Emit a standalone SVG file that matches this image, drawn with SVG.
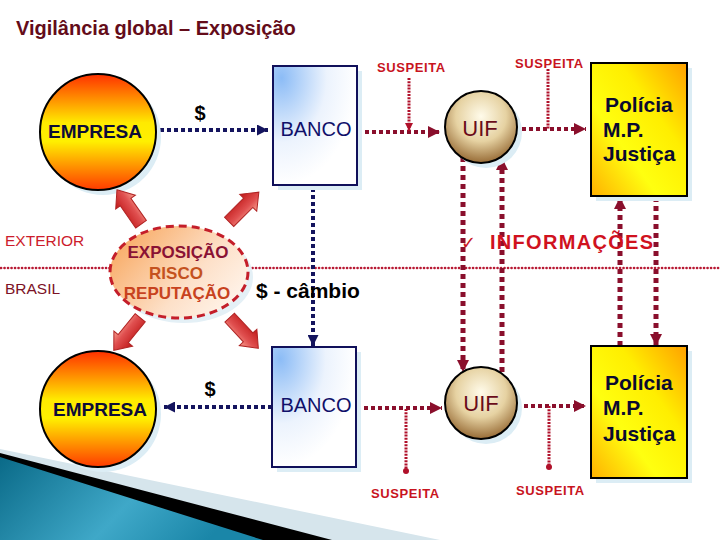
<svg xmlns="http://www.w3.org/2000/svg" width="720" height="540" viewBox="0 0 720 540">
<style>
.nv{fill:none;stroke:#14145e;stroke-width:4;stroke-dasharray:4 3}
.rd{fill:none;stroke:#8a0f2c;stroke-width:4;stroke-dasharray:4 3}
.rdv{fill:none;stroke:#8a0f2c;stroke-width:5;stroke-dasharray:5 4}
.thin{fill:none;stroke:#b0102a;stroke-width:3;stroke-dasharray:2 1.2}
.div{fill:none;stroke:#b81a34;stroke-width:2.6;stroke-dasharray:0.1 3.4;stroke-linecap:round}
.susp{font-family:"Liberation Sans",Arial,sans-serif;font-weight:bold;font-size:13px;fill:#c8141e;letter-spacing:0.6px}
.emp{font-family:"Liberation Sans",Arial,sans-serif;font-weight:bold;font-size:19px;fill:#0c0c38;text-anchor:middle}
.banco{font-family:"Liberation Sans",Arial,sans-serif;font-size:20px;fill:#10106a;text-anchor:middle}
.uif{font-family:"Liberation Sans",Arial,sans-serif;font-size:22px;fill:#6a0c1a;text-anchor:middle}
.pol{font-family:"Liberation Sans",Arial,sans-serif;font-weight:bold;font-size:21px;fill:#0a0a30}
.dol{font-family:"Liberation Sans",Arial,sans-serif;font-weight:bold;font-size:20px;fill:#000;text-anchor:middle}
.sh{fill:#dcedf5}
.barrow{fill:url(#gArr);stroke:#b02424;stroke-width:1}
</style>
<defs>
<linearGradient id="gEmp" x1="0" y1="0" x2="0" y2="1">
<stop offset="0" stop-color="#ff3000"/><stop offset="0.42" stop-color="#ffea00"/><stop offset="0.58" stop-color="#fff000"/><stop offset="1" stop-color="#ff3a00"/>
</linearGradient>
<radialGradient id="gBanco" cx="0.1" cy="0.1" r="0.9">
<stop offset="0" stop-color="#8cbcf6"/><stop offset="0.6" stop-color="#ecf3fd"/><stop offset="1" stop-color="#ffffff"/>
</radialGradient>
<radialGradient id="gUif" cx="0.5" cy="0.35" r="0.7">
<stop offset="0" stop-color="#fffbea"/><stop offset="0.5" stop-color="#e6d2a2"/><stop offset="1" stop-color="#8a5a24"/>
</radialGradient>
<linearGradient id="gPol" x1="1" y1="0" x2="0" y2="1">
<stop offset="0" stop-color="#ffa000"/><stop offset="0.35" stop-color="#ffee00"/><stop offset="0.65" stop-color="#ffff10"/><stop offset="1" stop-color="#ffb000"/>
</linearGradient>
<linearGradient id="gEll" x1="0" y1="0.2" x2="1" y2="0.8">
<stop offset="0" stop-color="#f8a860"/><stop offset="0.6" stop-color="#fde0c8"/><stop offset="1" stop-color="#fff6ee"/>
</linearGradient>
<linearGradient id="gArr" x1="0" y1="0" x2="1" y2="0">
<stop offset="0" stop-color="#c01818"/><stop offset="0.6" stop-color="#e05050"/><stop offset="1" stop-color="#f8a090"/>
</linearGradient>
<linearGradient id="gTeal" x1="0" y1="0" x2="1" y2="0.3">
<stop offset="0" stop-color="#0a6a88"/><stop offset="0.6" stop-color="#3fa8c8"/><stop offset="1" stop-color="#1a86a8"/>
</linearGradient>
<marker id="mN" viewBox="0 0 10 10" refX="10" refY="5" markerWidth="11" markerHeight="11" markerUnits="userSpaceOnUse" orient="auto"><path d="M0,0 L10,5 L0,10 z" fill="#14145e"/></marker>
<marker id="mR" viewBox="0 0 10 10" refX="10" refY="5" markerWidth="12" markerHeight="12" markerUnits="userSpaceOnUse" orient="auto"><path d="M0,0 L10,5 L0,10 z" fill="#8a0f2c"/></marker>
<marker id="mRs" viewBox="0 0 10 10" refX="10" refY="5" markerWidth="8" markerHeight="8" markerUnits="userSpaceOnUse" orient="auto"><path d="M0,0 L10,5 L0,10 z" fill="#b0102a"/></marker>
<marker id="dot" viewBox="0 0 10 10" refX="5" refY="5" markerWidth="6" markerHeight="6" markerUnits="userSpaceOnUse"><circle cx="5" cy="5" r="5" fill="#b0102a"/></marker>
</defs>
<rect width="720" height="540" fill="#ffffff"/>

<!-- bottom-left decoration -->
<polygon points="0,449 440,540 0,540" fill="#d6e5ec"/>
<polygon points="0,453 332,540 0,540" fill="#000000"/>
<polygon points="0,457 263,540 0,540" fill="url(#gTeal)"/>

<text x="16" y="35" font-family="Liberation Sans, Arial, sans-serif" font-weight="bold" font-size="20" fill="#640c1a">Vigilância global – Exposição</text>

<!-- divider -->
<g id="divider">
<line class="div" x1="1" y1="268" x2="110" y2="268"/>
<line class="div" x1="249" y1="268" x2="720" y2="268"/>
<text x="5" y="246" font-family="Liberation Sans, Arial, sans-serif" font-size="15.5" fill="#cc1c2c">EXTERIOR</text>
<text x="5" y="294" font-family="Liberation Sans, Arial, sans-serif" font-size="15.5" fill="#7c1226">BRASIL</text>
</g>

<g id="connectors">
<line class="nv" x1="160" y1="130" x2="268" y2="130" marker-end="url(#mN)"/>
<line class="nv" x1="272" y1="407" x2="164" y2="407" marker-end="url(#mN)"/>
<line class="nv" x1="313" y1="188" x2="313" y2="346" marker-end="url(#mN)"/>
<line class="rd" x1="358" y1="132" x2="440" y2="132" marker-end="url(#mR)"/>
<line class="rd" x1="522" y1="129" x2="586" y2="129" marker-end="url(#mR)"/>
<line class="rd" x1="357" y1="408" x2="442" y2="408" marker-end="url(#mR)"/>
<line class="rd" x1="524" y1="406" x2="586" y2="406" marker-end="url(#mR)"/>
<line class="thin" x1="409" y1="78" x2="409" y2="131" marker-end="url(#mRs)"/>
<line class="thin" x1="548" y1="69" x2="548" y2="129"/>
<line class="thin" x1="406" y1="409" x2="406" y2="471" marker-end="url(#dot)"/>
<line class="thin" x1="549" y1="406" x2="549" y2="467" marker-end="url(#dot)"/>
<line class="rdv" x1="463" y1="157" x2="463" y2="372" marker-end="url(#mR)"/>
<line class="rdv" x1="502" y1="372" x2="502" y2="158" marker-end="url(#mR)"/>
<line class="rdv" x1="620" y1="346" x2="620" y2="197" marker-end="url(#mR)"/>
<line class="rdv" x1="656" y1="197" x2="656" y2="346" marker-end="url(#mR)"/>
</g>

<g id="labels">
<text class="susp" x="377" y="72">SUSPEITA</text>
<text class="susp" x="515" y="68">SUSPEITA</text>
<text class="susp" x="371" y="498">SUSPEITA</text>
<text class="susp" x="516" y="495">SUSPEITA</text>
<text class="dol" x="200" y="120">$</text>
<text class="dol" x="210" y="396">$</text>
<text x="256" y="298" font-family="Liberation Sans, Arial, sans-serif" font-weight="bold" font-size="21" fill="#000">$ - câmbio</text>
<text x="461" y="249" font-family="DejaVu Sans, sans-serif" font-size="18" fill="#c8141e">✓</text>
<text x="490" y="249" font-family="Liberation Sans, Arial, sans-serif" font-weight="bold" font-size="20" letter-spacing="1.3" fill="#d0121e">INFORMAÇÕES</text>
</g>

<g id="empresa-top">
<circle class="sh" cx="103" cy="137" r="58"/>
<circle cx="98" cy="132" r="58" fill="url(#gEmp)" stroke="#000" stroke-width="2"/>
<text class="emp" x="95" y="138">EMPRESA</text>
</g>
<g id="empresa-bottom">
<circle class="sh" cx="103" cy="414" r="58"/>
<circle cx="98" cy="409" r="58" fill="url(#gEmp)" stroke="#000" stroke-width="2"/>
<text class="emp" x="100" y="416">EMPRESA</text>
</g>
<g id="banco-top">
<rect class="sh" x="278" y="71" width="84" height="119"/>
<rect x="273" y="66" width="84" height="119" fill="url(#gBanco)" stroke="#10105a" stroke-width="2"/>
<text class="banco" x="316" y="136">BANCO</text>
</g>
<g id="banco-bottom">
<rect class="sh" x="277" y="352" width="84" height="120"/>
<rect x="272" y="347" width="84" height="120" fill="url(#gBanco)" stroke="#10105a" stroke-width="2"/>
<text class="banco" x="316" y="412">BANCO</text>
</g>
<g id="uif-top">
<circle class="sh" cx="486" cy="132" r="36"/>
<circle cx="481" cy="127" r="36" fill="url(#gUif)" stroke="#000" stroke-width="2"/>
<text class="uif" x="480" y="136">UIF</text>
</g>
<g id="uif-bottom">
<circle class="sh" cx="486" cy="408" r="36"/>
<circle cx="481" cy="403" r="36" fill="url(#gUif)" stroke="#000" stroke-width="2"/>
<text class="uif" x="481" y="411">UIF</text>
</g>
<g id="policia-top">
<rect class="sh" x="596" y="68" width="96" height="133"/>
<rect x="591" y="63" width="96" height="133" fill="url(#gPol)" stroke="#000" stroke-width="2"/>
<text class="pol" x="605" y="112">Polícia</text>
<text class="pol" x="603" y="137">M.P.</text>
<text class="pol" x="603" y="161">Justiça</text>
</g>
<g id="policia-bottom">
<rect class="sh" x="596" y="351" width="96" height="132"/>
<rect x="591" y="346" width="96" height="132" fill="url(#gPol)" stroke="#000" stroke-width="2"/>
<text class="pol" x="605" y="390">Polícia</text>
<text class="pol" x="603" y="415">M.P.</text>
<text class="pol" x="603" y="441">Justiça</text>
</g>

<g id="exposicao">
<ellipse cx="184" cy="277" rx="69" ry="46" fill="#e4f0f6"/>
<ellipse cx="179" cy="272" rx="69" ry="46" fill="url(#gEll)" stroke="#c41e2a" stroke-width="3" stroke-dasharray="8 5"/>
<text x="178" y="258" text-anchor="middle" font-family="Liberation Sans, Arial, sans-serif" font-weight="bold" font-size="17" fill="#8a1234">EXPOSIÇÃO</text>
<text x="176" y="279" text-anchor="middle" font-family="Liberation Sans, Arial, sans-serif" font-weight="bold" font-size="17" fill="#c4521e">RISCO</text>
<text x="177" y="299" text-anchor="middle" font-family="Liberation Sans, Arial, sans-serif" font-weight="bold" font-size="17" fill="#c8421e">REPUTAÇÃO</text>
</g>

<g id="block-arrows">
<polygon class="barrow" points="0,-21 12,-6 6.5,-6 6.5,21 -6.5,21 -6.5,-6 -12,-6" transform="translate(129,207) rotate(-35)"/>
<polygon class="barrow" points="0,-21 12,-6 6.5,-6 6.5,21 -6.5,21 -6.5,-6 -12,-6" transform="translate(244,207) rotate(45)"/>
<polygon class="barrow" points="0,-21 12,-6 6.5,-6 6.5,21 -6.5,21 -6.5,-6 -12,-6" transform="translate(127,334) rotate(-141)"/>
<polygon class="barrow" points="0,-21 12,-6 6.5,-6 6.5,21 -6.5,21 -6.5,-6 -12,-6" transform="translate(244,333) rotate(137)"/>
</g>
</svg>
